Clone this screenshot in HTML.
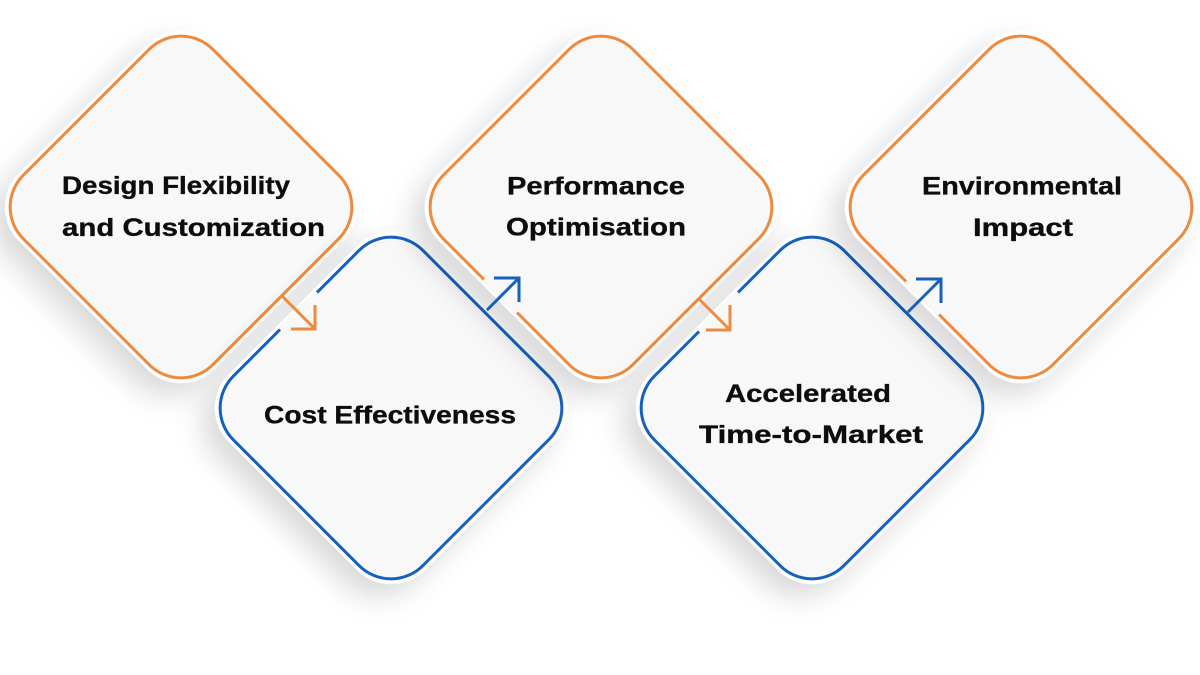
<!DOCTYPE html>
<html>
<head>
<meta charset="utf-8">
<style>
  html, body { margin: 0; padding: 0; background: #ffffff; }
  body { width: 1200px; height: 675px; overflow: hidden; }
  svg { display: block; }
  .lbl { font-family: "Liberation Sans", Arial, sans-serif; font-weight: bold; font-size: 25px; fill: #0d0d0d; stroke: #0d0d0d; stroke-width: 0.35px; }
</style>
</head>
<body>
<svg width="1200" height="675" viewBox="0 0 1200 675" xmlns="http://www.w3.org/2000/svg">
  <defs>
    <filter id="sh" x="-30%" y="-30%" width="160%" height="175%">
      <feDropShadow dx="0" dy="18" stdDeviation="14" flood-color="#000000" flood-opacity="0.15"/>
    </filter>
  </defs>
  <rect width="1200" height="675" fill="#ffffff"/>

  <!-- D1 orange -->
  <g transform="translate(181,207) rotate(45)">
    <rect x="-138.5" y="-138.5" width="277" height="277" rx="48" fill="#ffffff" filter="url(#sh)"/>
    <rect x="-134" y="-134" width="268" height="268" rx="45" fill="#f8f8f8" stroke="#ef8a3d" stroke-width="3"/>
  </g>

  <!-- D2 blue -->
  <g transform="translate(391,408) rotate(45)">
    <rect x="-138.5" y="-138.5" width="277" height="277" rx="48" fill="#ffffff" filter="url(#sh)"/>
    <rect x="-134" y="-134" width="268" height="268" rx="45" fill="#f8f8f8" stroke="#1661be" stroke-width="3"/>
  </g>

  <!-- D3 orange -->
  <g transform="translate(601,207) rotate(45)">
    <rect x="-138.5" y="-138.5" width="277" height="277" rx="48" fill="#ffffff" filter="url(#sh)"/>
    <rect x="-134" y="-134" width="268" height="268" rx="45" fill="#f8f8f8" stroke="#ef8a3d" stroke-width="3"/>
  </g>

  <!-- D4 blue -->
  <g transform="translate(812,408) rotate(45)">
    <rect x="-138.5" y="-138.5" width="277" height="277" rx="48" fill="#ffffff" filter="url(#sh)"/>
    <rect x="-134" y="-134" width="268" height="268" rx="45" fill="#f8f8f8" stroke="#1661be" stroke-width="3"/>
  </g>

  <!-- D5 orange -->
  <g transform="translate(1021,207) rotate(45)">
    <rect x="-138.5" y="-138.5" width="277" height="277" rx="48" fill="#ffffff" filter="url(#sh)"/>
    <rect x="-134" y="-134" width="268" height="268" rx="45" fill="#f8f8f8" stroke="#ef8a3d" stroke-width="3"/>
  </g>

  <!-- gaps in outlines where arrows pass -->
  <g stroke="#f8f8f8" stroke-width="6" stroke-linecap="butt">
    <line x1="280" y1="329.5" x2="317" y2="292.5"/>
    <line x1="484" y1="279.5" x2="517" y2="312.5"/>
    <line x1="699" y1="331.5" x2="738" y2="292.5"/>
    <line x1="906" y1="281.5" x2="939" y2="314.5"/>
  </g>

  <!-- arrows -->
  <g fill="none" stroke-width="3" stroke-linejoin="miter" stroke-linecap="butt">
    <g stroke="#ef8a3d">
      <line x1="282" y1="296" x2="314" y2="328"/>
      <polyline points="315,305 315,329 291,329"/>
      <line x1="698" y1="298" x2="729" y2="329"/>
      <polyline points="730,305 730,330 706,330"/>
    </g>
    <g stroke="#1661be">
      <line x1="487" y1="310" x2="518" y2="279"/>
      <polyline points="494,278 519,278 519,302"/>
      <line x1="908" y1="312" x2="940" y2="280"/>
      <polyline points="916,279 941,279 941,303"/>
    </g>
  </g>

  <!-- labels -->
  <text class="lbl" x="62" y="194" textLength="228" lengthAdjust="spacingAndGlyphs">Design Flexibility</text>
  <text class="lbl" x="62" y="236" textLength="263" lengthAdjust="spacingAndGlyphs">and Customization</text>

  <text class="lbl" x="507" y="194.5" textLength="178" lengthAdjust="spacingAndGlyphs">Performance</text>
  <text class="lbl" x="506" y="235.5" textLength="180" lengthAdjust="spacingAndGlyphs">Optimisation</text>

  <text class="lbl" x="922" y="194.5" textLength="200" lengthAdjust="spacingAndGlyphs">Environmental</text>
  <text class="lbl" x="973" y="236" textLength="100" lengthAdjust="spacingAndGlyphs">Impact</text>

  <text class="lbl" x="264" y="423.5" textLength="252" lengthAdjust="spacingAndGlyphs">Cost Effectiveness</text>

  <text class="lbl" x="725" y="402" textLength="166" lengthAdjust="spacingAndGlyphs">Accelerated</text>
  <text class="lbl" x="699" y="443" textLength="224" lengthAdjust="spacingAndGlyphs">Time-to-Market</text>
</svg>
</body>
</html>
